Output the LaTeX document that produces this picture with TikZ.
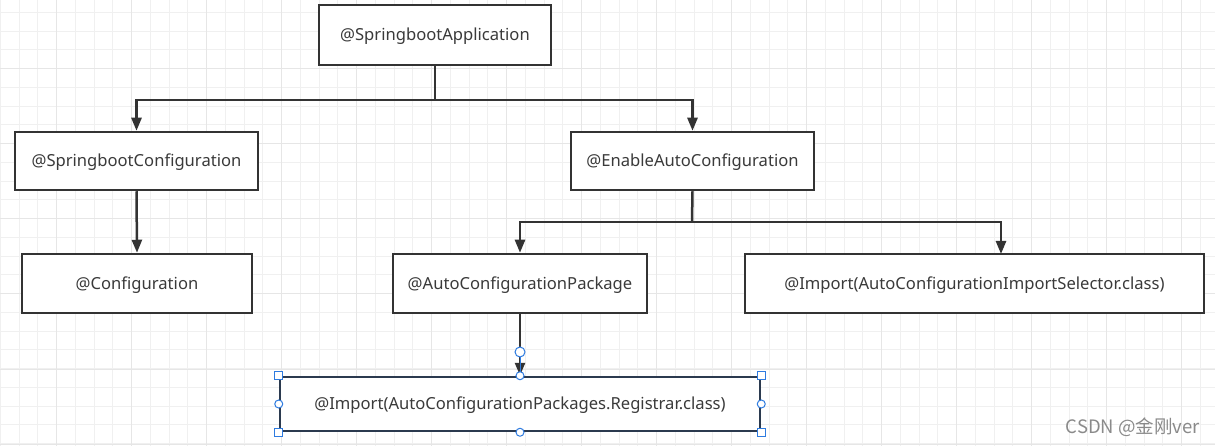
\documentclass[tikz,border=0pt]{standalone}
\usepackage{fontspec}
\setmainfont{Noto Sans}
\newfontfamily\cjkfont{Noto Sans CJK SC}
\usetikzlibrary{arrows.meta}
\definecolor{linec}{HTML}{333333}
\definecolor{textc}{HTML}{3A3A3A}
\definecolor{gridminor}{HTML}{F0F0F0}
\definecolor{gridmajor}{HTML}{E6E6E6}
\definecolor{selblue}{HTML}{2E7BE0}
\definecolor{selborder}{HTML}{2B3A4F}
\definecolor{wmark}{HTML}{8A8A8A}
\tikzset{
  box/.style={draw=linec, line width=2.5pt, fill=white, text=textc, inner sep=0pt,
    text height=11.9pt, text depth=0pt,
    font=\fontsize{16.6}{19}\selectfont},
  conn/.style={draw=linec, line width=2.5pt},
  arr/.style={conn, -{Triangle[length=13pt,width=10pt]}},
  hsq/.style={draw=selblue, fill=white, line width=1pt, minimum size=8pt, inner sep=0pt, rectangle},
  hci/.style={draw=selblue, fill=white, line width=1pt, minimum size=8pt, inner sep=0pt, circle},
}
\begin{document}
\begin{tikzpicture}[x=1pt,y=-1pt]
\useasboundingbox (0,0) rectangle (1215,446);
\fill[white] (0,0) rectangle (1215,446);
% grid
\foreach \k in {0,...,64} {
  \draw[gridminor, line width=1pt] ({0.3+18.75*\k},0) -- ({0.3+18.75*\k},446);
}
\foreach \k in {0,...,24} {
  \draw[gridminor, line width=1pt] (0,{-6.45+18.75*\k}) -- (1215,{-6.45+18.75*\k});
}
\foreach \k in {0,...,16} {
  \draw[gridmajor, line width=1pt] ({-18.45+75*\k},0) -- ({-18.45+75*\k},446);
}
\foreach \k in {0,...,6} {
  \draw[gridmajor, line width=1pt] (0,{-6+75*\k}) -- (1215,{-6+75*\k});
}
% nodes
\node[box, minimum width=232pt, minimum height=60pt] (app) at (435,35) {@SpringbootApplication};
\node[box, minimum width=243pt, minimum height=58pt] (cfg) at (136.5,161) {@SpringbootConfiguration};
\node[box, minimum width=243pt, minimum height=58pt] (eac) at (692.5,161) {@EnableAutoConfiguration};
\node[box, minimum width=230pt, minimum height=59pt] (con) at (137,283.5) {@Configuration};
\node[box, minimum width=254pt, minimum height=59pt] (acp) at (520,283.5) {@AutoConfigurationPackage};
\node[box, minimum width=459pt, minimum height=59pt] (imp) at (974.5,283.5) {@Import(AutoConfigurationImportSelector.class)};
\node[box, draw=selborder, minimum width=480pt, minimum height=54pt] (reg) at (520,404) {@Import(AutoConfigurationPackages.Registrar.class)};
% connectors
\coordinate (j1) at (435,100);
\coordinate (j2) at (692,222);
\coordinate (impin) at (1001,254);
\draw[conn] (app.south) -- (j1);
\draw[arr] (j1) -| (cfg.north);
\draw[arr] (j1) -| (eac.north);
\draw[arr] (cfg.south) -- (con.north);
\draw[conn] (eac.south) -- (j2);
\draw[arr] (j2) -| (acp.north);
\draw[arr] (j2) -| (impin);
\draw[arr] (acp.south) -- (reg.north);
% selection handles
\draw[selblue, line width=1pt] (520,352) -- (reg.north);
\node[hci, minimum size=10pt] (hc) at (520,352) {};
\node[hsq] (h1) at (reg.north west) {};
\node[hsq] (h2) at (reg.north east) {};
\node[hsq] (h3) at (reg.south west) {};
\node[hsq] (h4) at (reg.south east) {};
\node[hci] (h5) at (reg.north) {};
\node[hci] (h6) at (reg.south) {};
\node[hci] (h7) at (reg.west) {};
\node[hci] (h8) at (reg.east) {};
% watermark
\node[text=wmark, font=\cjkfont\fontsize{18.5}{21}\selectfont, anchor=east, inner sep=0pt] (wm) at (1200,427) {CSDN @金刚ver};
\end{tikzpicture}
\end{document}
